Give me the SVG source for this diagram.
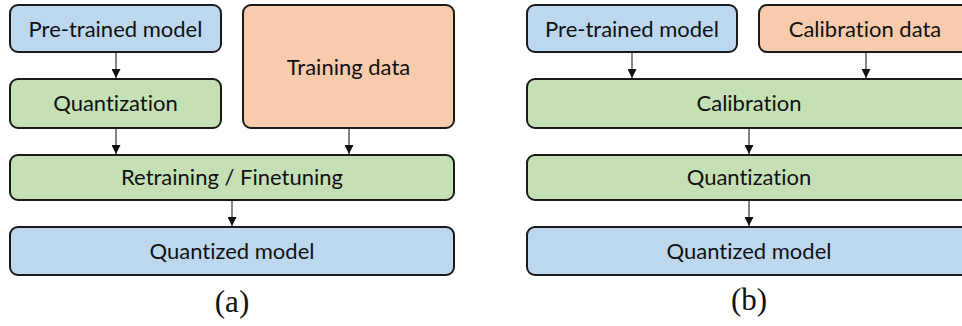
<svg xmlns="http://www.w3.org/2000/svg" width="962" height="326" viewBox="0 0 962 326">
  <defs>
    <marker id="arrow" viewBox="0 0 10 10" refX="10" refY="5" markerWidth="9" markerHeight="9" markerUnits="userSpaceOnUse" orient="auto">
      <path d="M0,0 L10,5 L0,10 Z" fill="#111"/>
    </marker>
    <style>
      .box { stroke: #1a1a1a; stroke-width: 2; }
      .blue { fill: #bdd7ee; }
      .green { fill: #c5e0b4; }
      .orange { fill: #f8cbad; }
      .lbl { font-family: Lato, "Open Sans", sans-serif; font-size: 22px; fill: #111; text-anchor: middle; font-variant-ligatures: none; }
      .cap { font-family: "Liberation Serif", serif; font-size: 31px; fill: #111; text-anchor: middle; }
      .conn line { stroke: #333; stroke-width: 1.2; marker-end: url(#arrow); }
    </style>
  </defs>
  <rect width="962" height="326" fill="#fff"/>

  <!-- (a) quantization-aware training -->
  <g id="a-pretrained">
    <rect class="box blue" x="10" y="5" width="211" height="47" rx="8"/>
    <text class="lbl" x="115.5" y="37">Pre-trained model</text>
  </g>
  <g id="a-training-data">
    <rect class="box orange" x="243" y="5" width="211" height="123" rx="8"/>
    <text class="lbl" x="348.5" y="75">Training data</text>
  </g>
  <g id="a-quantization">
    <rect class="box green" x="10" y="79" width="211" height="49" rx="8"/>
    <text class="lbl" x="115.5" y="111">Quantization</text>
  </g>
  <g id="a-retraining">
    <rect class="box green" x="10" y="155" width="444" height="45" rx="8"/>
    <text class="lbl" x="232" y="185">Retraining / Finetuning</text>
  </g>
  <g id="a-quantized">
    <rect class="box blue" x="10" y="227" width="444" height="48" rx="8"/>
    <text class="lbl" x="232" y="259">Quantized model</text>
  </g>
  <text class="cap" x="232" y="312">(a)</text>

  <!-- (b) post-training quantization -->
  <g id="b-pretrained">
    <rect class="box blue" x="527" y="5" width="210" height="47" rx="8"/>
    <text class="lbl" x="632" y="37">Pre-trained model</text>
  </g>
  <g id="b-calib-data">
    <rect class="box orange" x="759" y="5" width="212" height="47" rx="8"/>
    <text class="lbl" x="865" y="37">Calibration data</text>
  </g>
  <g id="b-calibration">
    <rect class="box green" x="527" y="79" width="444" height="49" rx="8"/>
    <text class="lbl" x="749" y="111">Calibration</text>
  </g>
  <g id="b-quantization">
    <rect class="box green" x="527" y="155" width="444" height="45" rx="8"/>
    <text class="lbl" x="749" y="185">Quantization</text>
  </g>
  <g id="b-quantized">
    <rect class="box blue" x="527" y="227" width="444" height="48" rx="8"/>
    <text class="lbl" x="749" y="259">Quantized model</text>
  </g>
  <text class="cap" x="749" y="310">(b)</text>

  <g id="connectors" class="conn">
    <line x1="116" y1="53" x2="116" y2="78"/>
    <line x1="116" y1="129" x2="116" y2="154"/>
    <line x1="349" y1="129" x2="349" y2="154"/>
    <line x1="232" y1="201" x2="232" y2="226"/>
    <line x1="632" y1="53" x2="632" y2="78"/>
    <line x1="866" y1="53" x2="866" y2="78"/>
    <line x1="749" y1="129" x2="749" y2="154"/>
    <line x1="749" y1="201" x2="749" y2="226"/>
  </g>
</svg>
